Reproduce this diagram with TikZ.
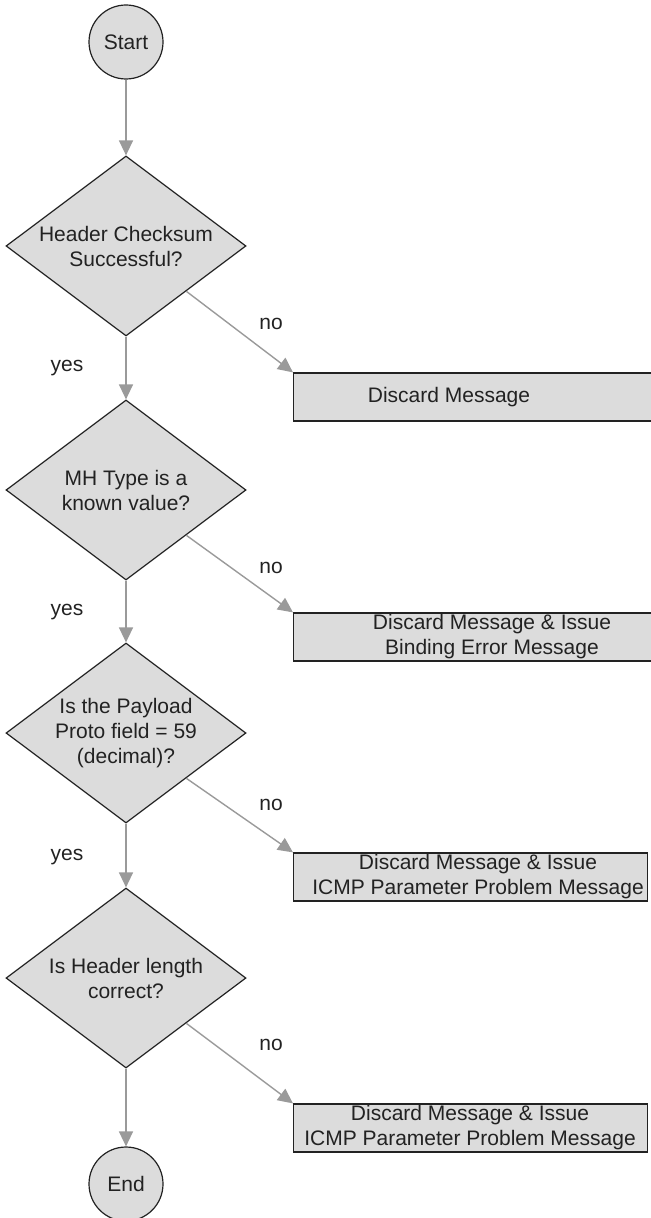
\documentclass[tikz,border=0pt]{standalone}
\usepackage{fontspec}
\setmainfont{Liberation Sans}
\usetikzlibrary{shapes.geometric,arrows.meta}
\definecolor{boxgray}{HTML}{DCDCDC}
\definecolor{linegray}{HTML}{9A9A9A}
\definecolor{inkgray}{HTML}{222222}
\tikzset{
  term/.style={
    draw=inkgray, fill=boxgray, circle, minimum size=37pt, inner sep=0pt, line width=0.6pt
  },
  test/.style={
    draw=inkgray, fill=boxgray, diamond, aspect=1.34, minimum width=120pt,
    minimum height=90pt, inner sep=0pt, align=center, line width=0.6pt
  },
  msgbox/.style={
    draw=inkgray, fill=boxgray, rectangle, anchor=west, minimum height=24pt,
    inner sep=0pt, line width=0.6pt
  },
  msg/.style={align=center, inner sep=0pt},
  lbl/.style={inner sep=0pt},
  flow/.style={-{Triangle[length=7.5pt,width=7pt]}, draw=linegray, line width=0.7pt}
}

\begin{document}
\begin{tikzpicture}[x=0.5pt, y=-0.5pt,
    every node/.style={text=inkgray, font=\fontsize{10.5}{12.5}\selectfont}]
 \useasboundingbox (0, 0) rectangle (650, 1218);

 % main column
 \node[term] (start) at (126, 42) {Start};
 \node[test] (chk) at (126, 246) {Header Checksum\\Successful?};
 \node[test] (mht) at (126, 490) {MH Type is a\\known value?};
 \node[test] (proto) at (126, 733) {Is the Payload\\Proto field = 59\\(decimal)?};
 \node[test] (hlen) at (126, 978) {Is Header length\\correct?};
 \node[term] (end) at (126, 1184) {End};

 % discard boxes on the right
 \node[msgbox, minimum width=190pt] (box1) at (293, 397) {};
 \node[msgbox, minimum width=190pt] (box2) at (293, 637) {};
 \node[msgbox, minimum width=177pt] (box3) at (293, 877) {};
 \node[msgbox, minimum width=177pt] (box4) at (293, 1128) {};
 \node[msg] (txt1) at (449, 397) {Discard Message};
 \node[msg] (txt2) at (492, 637) {Discard Message \& Issue\\Binding Error Message};
 \node[msg] (txt3) at (478, 877) {Discard Message \& Issue\\ICMP Parameter Problem Message};
 \node[msg] (txt4) at (470, 1128) {Discard Message \& Issue\\ICMP Parameter Problem Message};

 \draw[flow] (start) -- (chk.north);
 \draw[flow] (chk.south) -- (mht.north);
 \draw[flow] (mht.south) -- (proto.north);
 \draw[flow] (proto.south) -- (hlen.north);
 \draw[flow] (hlen.south) -- (end);

 \draw[flow] (chk.south east) -- (box1.north west);
 \draw[flow] (mht.south east) -- (box2.north west);
 \draw[flow] (proto.south east) -- (box3.north west);
 \draw[flow] (hlen.south east) -- (box4.north west);

 \node[lbl] (yes1) at (67, 368) {yes};
 \node[lbl] (yes2) at (67, 612) {yes};
 \node[lbl] (yes3) at (67, 857) {yes};
 \node[lbl] (no1) at (271, 324) {no};
 \node[lbl] (no2) at (271, 568) {no};
 \node[lbl] (no3) at (271, 805) {no};
 \node[lbl] (no4) at (271, 1045) {no};

\end{tikzpicture}
\end{document}
